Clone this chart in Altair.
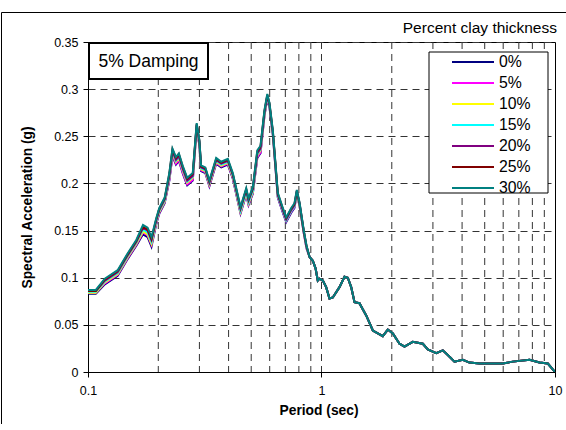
import altair as alt
import pandas as pd

FONT = "Liberation Sans"

# Series shown in the legend (percent clay thickness) and their line colours
series_names = ["0%", "5%", "10%", "15%", "20%", "25%", "30%"]
series_colors = ["#000080", "#FF00FF", "#FFFF00", "#00FFFF", "#800080", "#800000", "#008080"]

# Short periods (s): the profiles separate slightly here
periods_short = [0.100, 0.108, 0.118, 0.134, 0.148, 0.161, 0.172, 0.180, 0.187, 0.196,
                 0.202, 0.213, 0.223, 0.230, 0.238, 0.245, 0.255, 0.266, 0.281, 0.292,
                 0.300, 0.305, 0.318, 0.331, 0.354, 0.372, 0.397, 0.417, 0.450, 0.476,
                 0.487, 0.508, 0.531, 0.548, 0.570, 0.586, 0.599, 0.619, 0.650, 0.683,
                 0.706, 0.742, 0.766, 0.784, 0.805, 0.840, 0.863]

sa_0 = [0.083, 0.083, 0.093, 0.102, 0.120, 0.134, 0.146, 0.143, 0.133, 0.157,
        0.168, 0.179, 0.203, 0.229, 0.220, 0.224, 0.210, 0.198, 0.203, 0.258,
        0.240, 0.213, 0.211, 0.197, 0.221, 0.217, 0.220, 0.205, 0.168, 0.188,
        0.177, 0.189, 0.227, 0.232, 0.272, 0.290, 0.280, 0.251, 0.185, 0.169,
        0.159, 0.169, 0.174, 0.189, 0.176, 0.147, 0.131]
sa_5 = [0.084, 0.084, 0.094, 0.103, 0.121, 0.135, 0.148, 0.145, 0.135, 0.158,
        0.169, 0.180, 0.204, 0.230, 0.221, 0.225, 0.211, 0.199, 0.204, 0.259,
        0.241, 0.214, 0.212, 0.198, 0.222, 0.218, 0.221, 0.206, 0.169, 0.189,
        0.178, 0.190, 0.228, 0.233, 0.273, 0.291, 0.281, 0.252, 0.186, 0.170,
        0.160, 0.170, 0.175, 0.190, 0.177, 0.147, 0.131]
sa_10 = [0.084, 0.084, 0.095, 0.104, 0.122, 0.136, 0.149, 0.146, 0.136, 0.159,
         0.170, 0.181, 0.206, 0.232, 0.223, 0.227, 0.213, 0.201, 0.206, 0.260,
         0.242, 0.215, 0.213, 0.199, 0.223, 0.219, 0.222, 0.207, 0.170, 0.190,
         0.179, 0.191, 0.230, 0.235, 0.274, 0.292, 0.282, 0.253, 0.187, 0.171,
         0.161, 0.171, 0.176, 0.190, 0.177, 0.148, 0.132]
sa_15 = [0.085, 0.085, 0.096, 0.105, 0.123, 0.137, 0.151, 0.148, 0.138, 0.160,
         0.171, 0.182, 0.207, 0.233, 0.224, 0.228, 0.214, 0.202, 0.207, 0.261,
         0.243, 0.216, 0.214, 0.200, 0.224, 0.220, 0.223, 0.208, 0.171, 0.191,
         0.180, 0.192, 0.231, 0.236, 0.275, 0.292, 0.282, 0.253, 0.187, 0.171,
         0.161, 0.171, 0.176, 0.191, 0.178, 0.148, 0.132]
sa_20 = [0.086, 0.086, 0.097, 0.106, 0.124, 0.138, 0.153, 0.150, 0.140, 0.161,
         0.172, 0.183, 0.208, 0.234, 0.225, 0.229, 0.215, 0.203, 0.208, 0.262,
         0.244, 0.217, 0.215, 0.201, 0.225, 0.221, 0.224, 0.209, 0.173, 0.193,
         0.182, 0.194, 0.232, 0.237, 0.276, 0.293, 0.283, 0.254, 0.188, 0.172,
         0.162, 0.172, 0.177, 0.192, 0.179, 0.149, 0.133]
sa_25 = [0.086, 0.086, 0.098, 0.107, 0.125, 0.139, 0.154, 0.151, 0.141, 0.162,
         0.173, 0.184, 0.210, 0.236, 0.227, 0.231, 0.217, 0.205, 0.210, 0.263,
         0.245, 0.218, 0.216, 0.202, 0.226, 0.222, 0.225, 0.210, 0.174, 0.194,
         0.183, 0.195, 0.234, 0.239, 0.277, 0.294, 0.284, 0.255, 0.189, 0.173,
         0.163, 0.173, 0.178, 0.192, 0.179, 0.149, 0.133]
sa_30 = [0.087, 0.087, 0.099, 0.108, 0.126, 0.140, 0.156, 0.153, 0.143, 0.163,
         0.174, 0.185, 0.211, 0.237, 0.228, 0.232, 0.218, 0.206, 0.211, 0.264,
         0.246, 0.219, 0.217, 0.203, 0.227, 0.223, 0.226, 0.211, 0.175, 0.195,
         0.184, 0.196, 0.235, 0.240, 0.278, 0.295, 0.285, 0.256, 0.190, 0.174,
         0.164, 0.174, 0.179, 0.193, 0.180, 0.150, 0.134]

# Longer periods (s): all profiles coincide
periods_long = [0.889, 0.918, 0.943, 0.964, 0.981, 1.013, 1.047, 1.082, 1.118, 1.194,
                1.255, 1.296, 1.340, 1.385, 1.454, 1.498, 1.554, 1.659, 1.830, 1.923,
                2.021, 2.158, 2.267, 2.460, 2.716, 2.853, 3.099, 3.307, 3.475, 3.712,
                4.029, 4.303, 4.751, 5.975, 6.596, 7.779, 8.584, 9.316, 10.0]
sa_long = [0.122, 0.118, 0.110, 0.097, 0.099, 0.097, 0.090, 0.078, 0.079, 0.090,
           0.101, 0.100, 0.090, 0.074, 0.073, 0.067, 0.060, 0.044, 0.038, 0.045,
           0.041, 0.030, 0.027, 0.032, 0.030, 0.024, 0.020, 0.023, 0.018, 0.011,
           0.013, 0.010, 0.009, 0.009, 0.011, 0.013, 0.010, 0.009, 0.000]

short_values = [sa_0, sa_5, sa_10, sa_15, sa_20, sa_25, sa_30]

y_ticks = [0, 0.05, 0.1, 0.15, 0.2, 0.25, 0.3, 0.35]
x_ticks = [0.1, 1, 10]
grid_periods = [0.2, 0.3, 0.4, 0.5, 0.6, 0.7, 0.8, 0.9, 1, 2, 3, 4, 5, 6, 7, 8, 9]

rows = []
for name, short in zip(series_names, short_values):
    for t, v in zip(periods_short, short):
        rows.append({"period": t, "sa": v, "series": name})
    for t, v in zip(periods_long, sa_long):
        rows.append({"period": t, "sa": v, "series": name})
df = pd.DataFrame(rows)

W, H = 467, 330
PAD = {"left": 88, "top": 42, "right": 11, "bottom": 52}

x_scale = alt.Scale(type="log", domain=[0.1, 10], nice=False)
y_scale = alt.Scale(domain=[0, 0.35], nice=False, zero=True)

x_axis = alt.Axis(
    values=x_ticks, format=".1~f", grid=False, tickSize=5, tickColor="black",
    domainColor="black", labelPadding=7, labelFont=FONT, labelFontSize=12.5,
    labelColor="black", labelFlush=False, labelOverlap=False,
    title="Period (sec)", titleFont=FONT, titleFontSize=13.8, titleFontWeight="bold",
    titleColor="black", titleX=W / 2 - 3, titleY=38, titleBaseline="middle",
    titleAlign="center",
)
y_axis = alt.Axis(
    values=y_ticks, format=".2~f", grid=True, gridDash=[7, 5], gridColor="#333333",
    gridWidth=1, tickSize=5, tickColor="black", domainColor="black", labelPadding=5,
    labelFont=FONT, labelFontSize=12.5, labelColor="black", labelOverlap=False,
    title="Spectral Acceleration (g)", titleFont=FONT, titleFontSize=13.8,
    titleFontWeight="bold", titleColor="black", titleAngle=270, titleX=-61,
    titleY=H / 2, titleAlign="center", titleBaseline="middle",
)

x_enc = alt.X("period:Q", scale=x_scale, axis=x_axis)
y_enc = alt.Y("sa:Q", scale=y_scale, axis=y_axis)

one_row = pd.DataFrame({"k": [0]})

# Dashed vertical grid at every log-cycle subdivision
grid = alt.Chart(pd.DataFrame({"period": grid_periods})).mark_rule(
    color="#333333", strokeWidth=1, strokeDash=[7, 5]
).encode(x=x_enc)

# Legend frame
legend_box = alt.Chart(one_row).mark_rect(
    fill="white", stroke="black", strokeWidth=1
).encode(x=alt.value(341), x2=alt.value(460), y=alt.value(10), y2=alt.value(151))

# Damping annotation
damping_box = alt.Chart(one_row).mark_rect(
    fill="white", stroke="black", strokeWidth=2
).encode(x=alt.value(1), x2=alt.value(120), y=alt.value(1), y2=alt.value(37))
damping_text = alt.Chart(one_row).mark_text(
    text="5% Damping", font=FONT, fontSize=17.5, color="black",
    align="center", baseline="middle"
).encode(x=alt.value(60.5), y=alt.value(19.5))

lines = alt.Chart(df).mark_line(strokeWidth=2, clip=True).encode(
    x=x_enc,
    y=y_enc,
    color=alt.Color(
        "series:N",
        scale=alt.Scale(domain=series_names, range=series_colors),
        sort=series_names,
        legend=alt.Legend(
            title=None, orient="none", legendX=363, legendY=10.6,
            direction="vertical", symbolType="stroke", symbolSize=1764,
            symbolStrokeWidth=2, clipHeight=18.7, rowPadding=2, labelOffset=4,
            labelFont=FONT, labelFontSize=15.8, labelColor="black", padding=0,
        ),
    ),
)

legend_title = alt.Chart(one_row).mark_text(
    text="Percent clay thickness", font=FONT, fontSize=15.5, color="black",
    align="right", baseline="middle"
).encode(x=alt.value(469), y=alt.value(-14))

# Outer chart frame: top and left edges; right margin kept clean
frame_top = alt.Chart(one_row).mark_rule(color="black", strokeWidth=1).encode(
    x=alt.value(-86.5), x2=alt.value(W + PAD["right"]), y=alt.value(-29.5)
)
frame_left = alt.Chart(one_row).mark_rule(color="black", strokeWidth=1).encode(
    x=alt.value(-86.5), y=alt.value(-29.5), y2=alt.value(H + PAD["bottom"])
)
right_edge = alt.Chart(one_row).mark_rule(color="white", strokeWidth=4).encode(
    x=alt.value(W + PAD["right"]), y=alt.value(-28), y2=alt.value(H + PAD["bottom"])
)

chart = alt.layer(
    grid, legend_box, damping_box, damping_text, lines, legend_title,
    frame_top, frame_left, right_edge
).properties(
    width=W, height=H,
    autosize=alt.AutoSizeParams(type="none"),
    padding=PAD,
    background="white",
).configure_view(stroke="black", strokeWidth=1)

chart.save("out.html", embed_options={"renderer": "svg", "actions": False})
